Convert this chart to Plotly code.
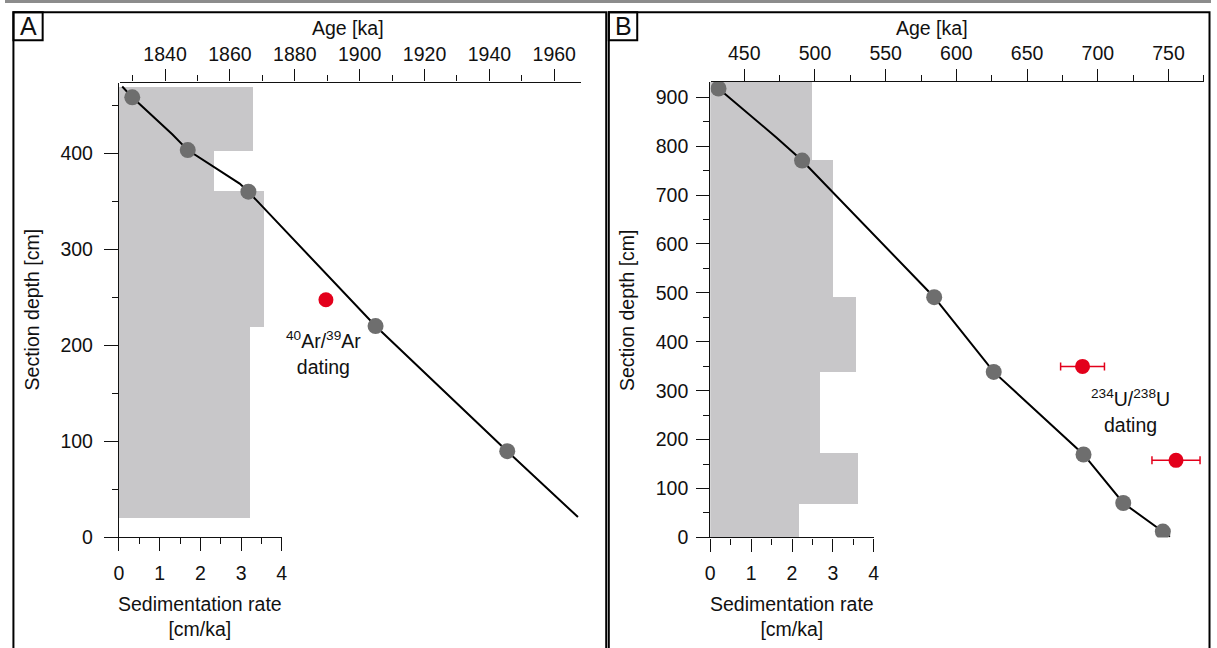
import plotly.graph_objects as go

W, H = 1217, 648
FONT = "Arial, Liberation Sans, sans-serif"

# ---------------- Panel A data ----------------
A_rate_top = [470, 403, 361, 220]
A_rate_bottom = [403, 361, 220, 20]
A_rates = [3.28, 2.33, 3.55, 3.23]

A_dot_age = [1829.9, 1847.0, 1865.7, 1904.9, 1945.5]
A_dot_depth = [458.7, 403.7, 360.3, 220.2, 89.7]

A_model_age = [1826.8, 1829.9, 1842.3, 1847.0, 1863.0, 1865.7, 1904.9, 1945.5, 1967.3]
A_model_depth = [470, 458.7, 420, 403.7, 368.8, 360.3, 220.2, 89.7, 21]

A_ar_age = [1889.6]
A_ar_depth = [247.6]

# ---------------- Panel B data ----------------
B_rate_top = [931, 772, 492, 338, 172, 68]
B_rate_bottom = [772, 492, 338, 172, 68, 2]
B_rates = [2.49, 3.00, 3.58, 2.68, 3.61, 2.17]

B_dot_age = [431.8, 490.9, 584.3, 626.4, 689.9, 718.0, 746.0]
B_dot_depth = [918, 770.6, 491.2, 338.5, 169.6, 70.4, 12]

B_model_age = [431.8, 472.7, 490.9, 559.0, 584.3, 626.4, 689.9, 718.0, 751.0]
B_model_depth = [918, 818, 770.6, 566, 491.2, 338.5, 169.6, 70.4, 1.4]

B_u_age = [689.2, 755.3]
B_u_depth = [349.7, 157.6]
B_u_err = [15.5, 17.0]

GRAY_BAR = "#C8C7C9"
DOT = "#6E6E6E"
RED = "#E3001B"


def px(x):
    return x / W


def py(y):
    return 1 - y / H


def centers(top, bottom):
    return [(t + b) / 2 for t, b in zip(top, bottom)]


def widths(top, bottom):
    return [t - b for t, b in zip(top, bottom)]


fig = go.Figure()

# Bars (sedimentation rate) - drawn first
fig.add_trace(go.Bar(orientation="h", x=A_rates, y=centers(A_rate_top, A_rate_bottom),
                     width=widths(A_rate_top, A_rate_bottom), base=0,
                     marker=dict(color=GRAY_BAR, line=dict(width=0)),
                     xaxis="x", yaxis="y", showlegend=False, hoverinfo="skip"))
fig.add_trace(go.Bar(orientation="h", x=B_rates, y=centers(B_rate_top, B_rate_bottom),
                     width=widths(B_rate_top, B_rate_bottom), base=0,
                     marker=dict(color=GRAY_BAR, line=dict(width=0)),
                     xaxis="x3", yaxis="y2", showlegend=False, hoverinfo="skip"))

# Age models
fig.add_trace(go.Scatter(x=A_model_age, y=A_model_depth, mode="lines",
                         line=dict(color="black", width=2), xaxis="x2", yaxis="y",
                         showlegend=False))
fig.add_trace(go.Scatter(x=A_dot_age, y=A_dot_depth, mode="markers",
                         marker=dict(color=DOT, size=16), xaxis="x2", yaxis="y",
                         showlegend=False))
fig.add_trace(go.Scatter(x=A_ar_age, y=A_ar_depth, mode="markers",
                         marker=dict(color=RED, size=15), xaxis="x2", yaxis="y",
                         showlegend=False))

fig.add_trace(go.Scatter(x=B_model_age, y=B_model_depth, mode="lines",
                         line=dict(color="black", width=2), xaxis="x4", yaxis="y2",
                         showlegend=False))
fig.add_trace(go.Scatter(x=B_dot_age, y=B_dot_depth, mode="markers",
                         marker=dict(color=DOT, size=16), xaxis="x4", yaxis="y2",
                         showlegend=False))
fig.add_trace(go.Scatter(x=B_u_age, y=B_u_depth, mode="markers",
                         marker=dict(color=RED, size=15),
                         error_x=dict(type="data", array=B_u_err, color=RED, thickness=1.5, width=4),
                         xaxis="x4", yaxis="y2", showlegend=False))

tickfont = dict(family=FONT, size=19.5, color="#111")


def ax(domain, rng, dtick, mdtick, side, anchor, ticklen=12, tick0=0, standoff=0):
    return dict(domain=domain, range=rng, side=side, anchor=anchor,
                tickmode="linear", tick0=tick0, dtick=dtick,
                ticks="outside", ticklen=ticklen, tickwidth=1, tickcolor="#111",
                ticklabelstandoff=standoff,
                minor=dict(dtick=mdtick, tick0=tick0, ticks="outside", ticklen=6,
                           tickwidth=1, tickcolor="#111"),
                showline=True, linecolor="#111", linewidth=1.2,
                showgrid=False, zeroline=False, tickfont=tickfont, fixedrange=True)


yA_dom = [py(546.5), py(84)]
yB_dom = [py(546.7), py(83.3)]

layout = dict(
    width=W, height=H, autosize=False,
    margin=dict(l=0, r=0, t=0, b=0),
    paper_bgcolor="white", plot_bgcolor="rgba(0,0,0,0)",
    barmode="overlay", bargap=0, showlegend=False,
    xaxis=ax([px(115), px(279.3)], [0, 4], 1, 0.5, "bottom", "y", 13, 0, 5),
    xaxis2=ax([px(115.9), px(580.8)], [1826.07, 1968.1], 20, 10, "top", "y", 12, 1840, 1),
    yaxis=ax(yA_dom, [0, 474.1], 100, 50, "left", "x", 14, 0, 7),
    xaxis3=ax([px(711.7), px(876.7)], [0, 4], 1, 0.5, "bottom", "y2", 13, 0, 5),
    xaxis4=ax([px(712), px(1209.8)], [426.17, 775], 50, 25, "top", "y2", 12, 450, 1),
    yaxis2=ax(yB_dom, [0, 931.5], 100, 50, "left", "x3", 13, 0, 4),
)
fig.update_layout(**layout)

shapes = [
    dict(type="line", xref="paper", yref="paper", x0=0, x1=1, y0=py(1.5), y1=py(1.5),
         line=dict(color="#8C8C8C", width=3)),
    dict(type="rect", xref="paper", yref="paper", x0=px(8.5), x1=px(606.7), y0=py(12.5), y1=py(670),
         line=dict(color="black", width=2)),
    dict(type="rect", xref="paper", yref="paper", x0=px(609.3), x1=px(1215.5), y0=py(12.5), y1=py(670),
         line=dict(color="black", width=2)),
    dict(type="rect", xref="paper", yref="paper", x0=px(8.5), x1=px(38), y0=py(12.5), y1=py(41),
         line=dict(color="black", width=2)),
    dict(type="rect", xref="paper", yref="paper", x0=px(609.3), x1=px(638), y0=py(12.5), y1=py(41),
         line=dict(color="black", width=2)),
]
fig.update_layout(shapes=shapes)

lab = dict(family=FONT, size=19.5, color="#111")
ann = [
    dict(text="A", x=px(23.3), y=py(26.5), xref="paper", yref="paper", showarrow=False,
         font=dict(family=FONT, size=25, color="#111"), xanchor="center", yanchor="middle"),
    dict(text="B", x=px(623.7), y=py(26.5), xref="paper", yref="paper", showarrow=False,
         font=dict(family=FONT, size=25, color="#111"), xanchor="center", yanchor="middle"),
    dict(text="Age [ka]", x=px(346), y=py(28), xref="paper", yref="paper", showarrow=False,
         font=lab, xanchor="center", yanchor="middle"),
    dict(text="Age [ka]", x=px(935), y=py(28), xref="paper", yref="paper", showarrow=False,
         font=lab, xanchor="center", yanchor="middle"),
    dict(text="Section depth [cm]", x=px(27), y=py(315), xref="paper", yref="paper", showarrow=False,
         font=lab, textangle=-90, xanchor="center", yanchor="middle"),
    dict(text="Section depth [cm]", x=px(627), y=py(315), xref="paper", yref="paper", showarrow=False,
         font=lab, textangle=-90, xanchor="center", yanchor="middle"),
    dict(text="Sedimentation rate<br>[cm/ka]", x=px(197), y=py(627.5), xref="paper", yref="paper",
         showarrow=False, font=lab, xanchor="center", yanchor="middle", align="center"),
    dict(text="Sedimentation rate<br>[cm/ka]", x=px(794), y=py(627.5), xref="paper", yref="paper",
         showarrow=False, font=lab, xanchor="center", yanchor="middle", align="center"),
    dict(text="<sup>40</sup>Ar/<sup>39</sup>Ar<br>dating", x=1889.0, y=192.4, xref="x2", yref="y",
         showarrow=False, font=lab, xanchor="center", yanchor="middle", align="center"),
    dict(text="<sup>234</sup>U/<sup>238</sup>U<br>dating", x=723.3, y=257.6, xref="x4", yref="y2",
         showarrow=False, font=lab, xanchor="center", yanchor="middle", align="center"),
]
fig.update_layout(annotations=ann)

fig.write_html("out.html")
